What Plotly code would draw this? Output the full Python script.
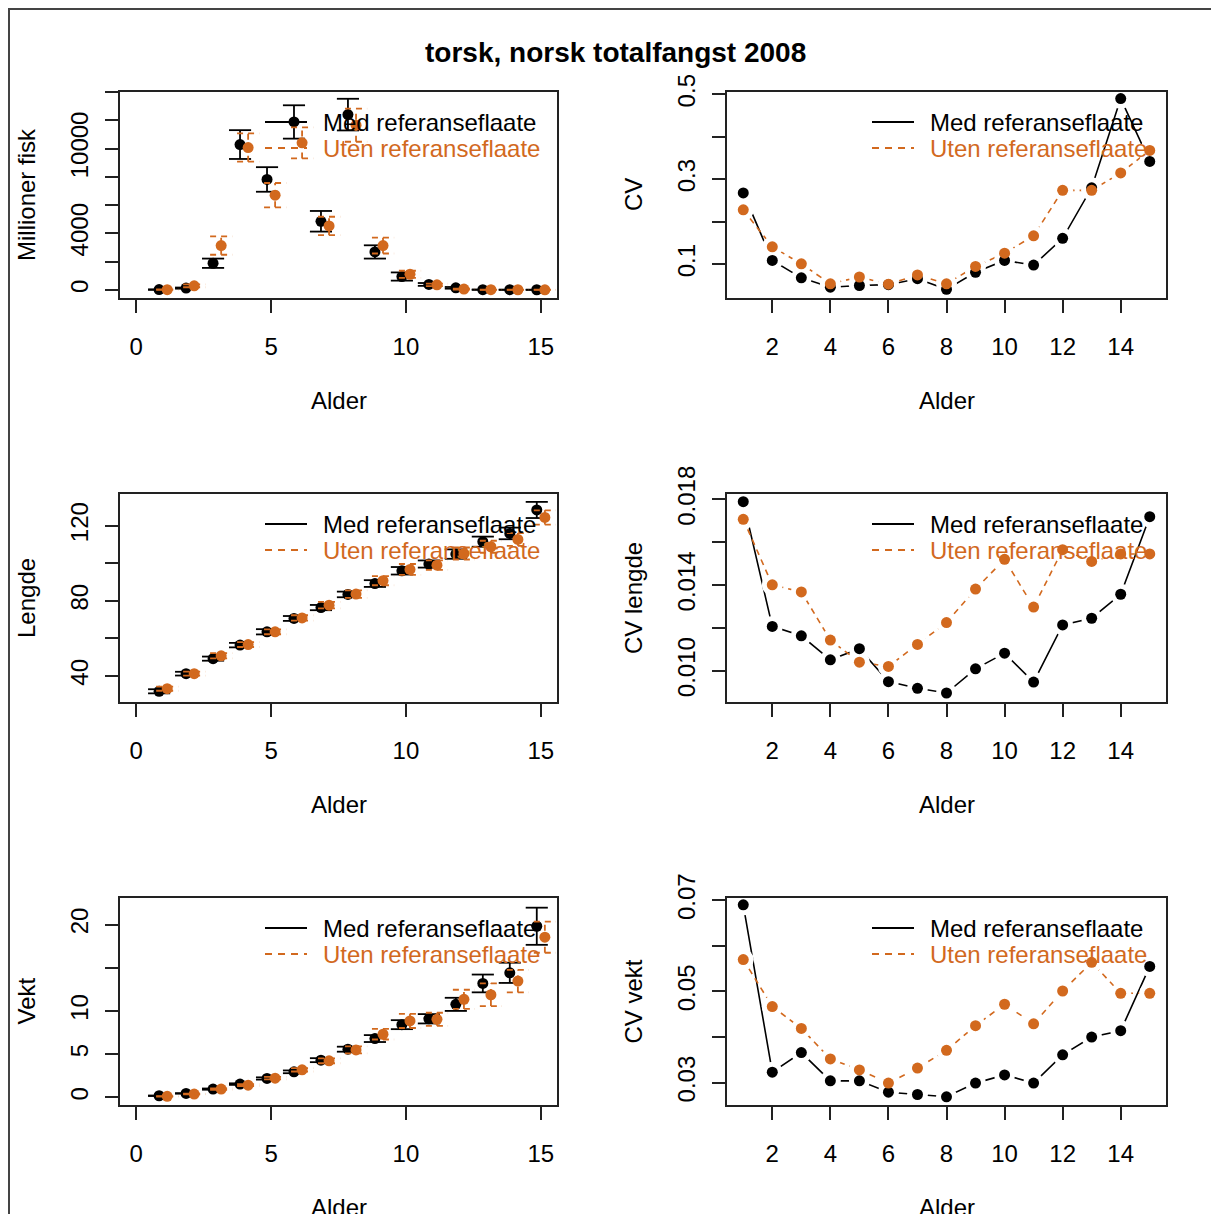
import plotly.graph_objects as go

# ---------------- data ----------------
ages = list(range(1, 16))

antall_med = [15, 120, 1880, 10280, 7810, 11880, 4850, 12400, 2680, 940, 380, 140, 10, 5, 3]
antall_med_err = [20, 40, 330, 1020, 870, 1180, 730, 1120, 470, 290, 100, 60, 15, 10, 8]
antall_uten = [10, 280, 3130, 10070, 6700, 10400, 4520, 11650, 3130, 1100, 350, 50, 5, 3, 2]
antall_uten_err = [15, 100, 650, 1000, 860, 1100, 650, 1170, 560, 250, 90, 40, 10, 8, 6]

lengde_med = [31.8, 41.2, 49.2, 56.4, 63.5, 70.6, 76.4, 83.4, 89.2, 96.0, 99.6, 104.9, 111.5, 115.9, 128.4]
lengde_med_err = [1.1, 1.0, 1.1, 1.2, 1.4, 1.3, 1.4, 1.5, 1.8, 2.0, 1.9, 2.5, 2.7, 3.1, 4.3]
lengde_uten = [33.2, 41.2, 50.7, 56.7, 63.5, 70.9, 77.7, 83.6, 90.7, 96.7, 99.0, 105.2, 108.8, 112.7, 124.4]
lengde_uten_err = [1.1, 1.1, 1.4, 1.3, 1.3, 1.4, 1.7, 2.0, 2.4, 2.9, 2.5, 3.2, 3.2, 3.4, 3.8]

vekt_med = [0.19, 0.46, 0.96, 1.54, 2.19, 2.96, 4.31, 5.58, 6.81, 8.42, 9.10, 10.77, 13.19, 14.42, 19.81]
vekt_med_err = [0.03, 0.03, 0.07, 0.09, 0.13, 0.16, 0.23, 0.29, 0.40, 0.52, 0.54, 0.76, 1.03, 1.17, 2.15]
vekt_uten = [0.12, 0.38, 0.96, 1.42, 2.23, 3.19, 4.23, 5.50, 7.31, 8.85, 9.04, 11.35, 11.88, 13.46, 18.54]
vekt_uten_err = [0.02, 0.04, 0.08, 0.10, 0.14, 0.19, 0.28, 0.40, 0.61, 0.82, 0.76, 1.11, 1.31, 1.31, 1.80]

cv_med = [0.268, 0.109, 0.068, 0.046, 0.050, 0.052, 0.066, 0.041, 0.081, 0.109, 0.098, 0.161, 0.280, 0.490, 0.342]
cv_uten = [0.228, 0.141, 0.101, 0.054, 0.070, 0.053, 0.075, 0.054, 0.095, 0.126, 0.167, 0.274, 0.274, 0.315, 0.368]

cv_lengde_med = [0.01789, 0.01207, 0.01163, 0.01051, 0.01103, 0.00949, 0.00918, 0.00896, 0.01009,
                 0.01082, 0.00947, 0.01214, 0.01245, 0.01357, 0.01719]
cv_lengde_uten = [0.01707, 0.01401, 0.01368, 0.01143, 0.01040, 0.01020, 0.01123, 0.01225, 0.01381,
                  0.01520, 0.01297, 0.01565, 0.01510, 0.01545, 0.01545]

cv_vekt_med = [0.0690, 0.0323, 0.0366, 0.0304, 0.0304, 0.0279, 0.0274, 0.0269, 0.0299, 0.0317,
               0.0299, 0.0361, 0.0400, 0.0414, 0.0555]
cv_vekt_uten = [0.0570, 0.0467, 0.0419, 0.0352, 0.0328, 0.0299, 0.0332, 0.0371, 0.0425, 0.0472,
                0.0429, 0.0501, 0.0564, 0.0496, 0.0496]

title = "torsk, norsk totalfangst 2008"
name_med = "Med referanseflaate"
name_uten = "Uten referanseflaate"
xtitle = "Alder"

# y-axis ticks (values, labels) per panel
yt_antall = ([0, 2000, 4000, 6000, 8000, 10000, 12000, 14000], ["0", "", "4000", "", "", "10000", "", ""])
yt_lengde = ([40, 60, 80, 100, 120], ["40", "", "80", "", "120"])
yt_vekt = ([0, 5, 10, 15, 20], ["0", "5", "10", "", "20"])
yt_cv = ([0.1, 0.2, 0.3, 0.4, 0.5], ["0.1", "", "0.3", "", "0.5"])
yt_cvl = ([0.010, 0.012, 0.014, 0.016, 0.018], ["0.010", "", "0.014", "", "0.018"])
yt_cvv = ([0.03, 0.04, 0.05, 0.06, 0.07], ["0.03", "", "0.05", "", "0.07"])
xt_left = [0, 5, 10, 15]
xt_right = [2, 4, 6, 8, 10, 12, 14]

# ---------------- style / layout ----------------
OFF = 8                      # page body margin of the html page
W, H = 1219 - OFF, 1214 - OFF
BLACK = "#000000"
ORANGE = "#D2691E"
AX = "#222222"
FONT = "Liberation Sans, Arial, sans-serif"
FS = 24
DODGE = 0.15          # horizontal offset between the two series in left column
CAP = 0.41            # half width of error bar caps (x data units)

# target positions in screen pixels of the final picture
colx = {0: (120, 557), 1: (727, 1166)}
rowy = {0: (92, 298), 1: (494, 702), 2: (898, 1105)}
xr_left = [-0.6, 15.6]
xr_right = [0.44, 15.56]
yranges = {
    (0, 0): [-580, 14000], (1, 0): [26.1, 136.9], (2, 0): [-0.88, 23.08],
    (0, 1): [0.0206, 0.5054], (1, 1): [0.00854, 0.01825], (2, 1): [0.0251, 0.0705],
}


def px_x(p):
    return (p - OFF) / W


def px_y(p):
    return 1 - (p - OFF) / H


fig = go.Figure()
layout = dict(
    width=W, height=H, autosize=False,
    margin=dict(l=0, r=0, t=0, b=0, pad=0, autoexpand=False),
    paper_bgcolor="white", plot_bgcolor="white",
    showlegend=False,
    font=dict(family=FONT, size=FS, color="black"),
)
annotations = []
shapes = []


def errbar_xy(xs, ys, es, cap):
    X, Y = [], []
    for x, y, e in zip(xs, ys, es):
        lo, hi = y - e, y + e
        X += [x, x, None, x - cap, x + cap, None, x - cap, x + cap, None]
        Y += [lo, hi, None, lo, lo, None, hi, hi, None]
    return X, Y


panels = [
    (0, 0, "Millioner fisk", antall_med, antall_med_err, antall_uten, antall_uten_err, yt_antall),
    (1, 0, "Lengde", lengde_med, lengde_med_err, lengde_uten, lengde_uten_err, yt_lengde),
    (2, 0, "Vekt", vekt_med, vekt_med_err, vekt_uten, vekt_uten_err, yt_vekt),
    (0, 1, "CV", cv_med, None, cv_uten, None, yt_cv),
    (1, 1, "CV lengde", cv_lengde_med, None, cv_lengde_uten, None, yt_cvl),
    (2, 1, "CV vekt", cv_vekt_med, None, cv_vekt_uten, None, yt_cvv),
]

for i, (r, c, ylab, med, med_e, uten, uten_e, yt) in enumerate(panels):
    k = i + 1
    xa = "x" if k == 1 else f"x{k}"
    ya = "y" if k == 1 else f"y{k}"
    xkey = "xaxis" if k == 1 else f"xaxis{k}"
    ykey = "yaxis" if k == 1 else f"yaxis{k}"
    x0, x1 = colx[c]
    y0, y1 = rowy[r]
    axis_common = dict(
        showline=True, mirror=True, linecolor=AX, linewidth=1.8,
        ticks="outside", ticklen=13, tickwidth=1.8, tickcolor=AX,
        showgrid=False, zeroline=False, automargin=False,
        tickfont=dict(family=FONT, size=FS, color="black"),
    )
    layout[xkey] = dict(
        axis_common, domain=[px_x(x0), px_x(x1)], anchor=ya,
        range=xr_left if c == 0 else xr_right,
        tickmode="array", tickvals=xt_left if c == 0 else xt_right,
        ticklabelstandoff=13,
    )
    layout[ykey] = dict(
        axis_common, domain=[px_y(y1), px_y(y0)], anchor=xa,
        range=yranges[(r, c)],
        tickmode="array", tickvals=yt[0], ticktext=yt[1],
        tickangle=-90, ticklabelstandoff=8,
    )

    if c == 0:
        xb = [a - DODGE for a in ages]
        xo = [a + DODGE for a in ages]
        ex, ey = errbar_xy(xb, med, med_e, CAP)
        fig.add_trace(go.Scatter(x=xb, y=med, mode="markers", xaxis=xa, yaxis=ya,
                                 marker=dict(color=BLACK, size=11), hoverinfo="skip"))
        fig.add_trace(go.Scatter(x=ex, y=ey, mode="lines", xaxis=xa, yaxis=ya,
                                 line=dict(color=BLACK, width=1.8), hoverinfo="skip"))
        ex, ey = errbar_xy(xo, uten, uten_e, CAP)
        fig.add_trace(go.Scatter(x=xo, y=uten, mode="markers", xaxis=xa, yaxis=ya,
                                 marker=dict(color=ORANGE, size=11), hoverinfo="skip"))
        fig.add_trace(go.Scatter(x=ex, y=ey, mode="lines", xaxis=xa, yaxis=ya,
                                 line=dict(color=ORANGE, width=1.8, dash="6px,5px"), hoverinfo="skip"))
    else:
        fig.add_trace(go.Scatter(x=ages, y=med, mode="lines", xaxis=xa, yaxis=ya,
                                 line=dict(color=BLACK, width=1.6), hoverinfo="skip"))
        fig.add_trace(go.Scatter(x=ages, y=uten, mode="lines", xaxis=xa, yaxis=ya,
                                 line=dict(color=ORANGE, width=1.6, dash="6px,5px"), hoverinfo="skip"))
        for vals in (med, uten):
            fig.add_trace(go.Scatter(x=ages, y=vals, mode="markers", xaxis=xa, yaxis=ya,
                                     marker=dict(color="white", size=21), hoverinfo="skip"))
        fig.add_trace(go.Scatter(x=ages, y=med, mode="markers", xaxis=xa, yaxis=ya,
                                 marker=dict(color=BLACK, size=11), hoverinfo="skip"))
        fig.add_trace(go.Scatter(x=ages, y=uten, mode="markers", xaxis=xa, yaxis=ya,
                                 marker=dict(color=ORANGE, size=11), hoverinfo="skip"))

    # axis titles
    annotations.append(dict(text=xtitle, x=px_x((x0 + x1) / 2), y=px_y(y1 + 102),
                            xref="paper", yref="paper", showarrow=False,
                            xanchor="center", yanchor="middle",
                            font=dict(family=FONT, size=FS, color="black")))
    annotations.append(dict(text=ylab, x=px_x(x0 - 94), y=px_y((y0 + y1) / 2),
                            xref="paper", yref="paper", showarrow=False, textangle=-90,
                            xanchor="center", yanchor="middle",
                            font=dict(family=FONT, size=FS, color="black")))
    # legend
    for j, (nm, col, dash) in enumerate([(name_med, BLACK, "solid"), (name_uten, ORANGE, "7px,6px")]):
        ly = y0 + 30 + 26 * j
        shapes.append(dict(type="line", xref="paper", yref="paper",
                           x0=px_x(x0 + 145), x1=px_x(x0 + 187), y0=px_y(ly), y1=px_y(ly),
                           line=dict(color=col, width=1.8, dash=dash), layer="above"))
        annotations.append(dict(text=nm, x=px_x(x0 + 201), y=px_y(ly),
                                xref="paper", yref="paper", showarrow=False,
                                xanchor="left", yanchor="middle",
                                font=dict(family=FONT, size=FS, color=col)))

# main title
annotations.append(dict(text="<b>" + title + "</b>", x=px_x(615), y=px_y(53),
                        xref="paper", yref="paper", showarrow=False,
                        xanchor="center", yanchor="middle",
                        font=dict(family=FONT, size=28, color="black")))
# outer frame (left and top edges visible)
shapes.append(dict(type="rect", xref="paper", yref="paper",
                   x0=px_x(9), x1=px_x(1219 + 20), y0=px_y(1214 + 20), y1=px_y(9),
                   line=dict(color="#444444", width=2), layer="above"))

layout["annotations"] = annotations
layout["shapes"] = shapes
fig.update_layout(**layout)
fig.write_html("out.html")
